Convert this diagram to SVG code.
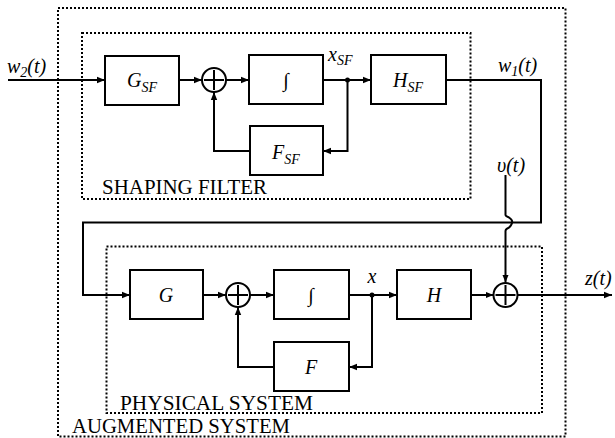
<svg xmlns="http://www.w3.org/2000/svg" width="615" height="438" viewBox="0 0 615 438">
<style>
.box{fill:#fff;stroke:#000;stroke-width:2}
.sum{fill:#fff;stroke:#000;stroke-width:2}
.dot{fill:none;stroke:#000;stroke-width:2;stroke-dasharray:2 2}
.ln{fill:none;stroke:#000;stroke-width:2}
.ar{fill:none;stroke:#000;stroke-width:2;marker-end:url(#ah)}
.t{font-family:'Liberation Serif','Times New Roman',Times,'DejaVu Serif',serif;font-style:italic;font-size:20px;fill:#000}
.s{font-size:14px}
.cap{font-family:'Liberation Serif','Times New Roman',Times,'DejaVu Serif',serif;font-size:20px;fill:#000}
</style>
<defs>
<marker id="ah" viewBox="0 0 10 10" refX="10" refY="5" markerWidth="4" markerHeight="4" orient="auto" markerUnits="strokeWidth">
<path d="M0,1 L10,5 L0,9 z" fill="#000"/>
</marker>
</defs>
<g id="augmented-system">
<rect class="dot" x="58" y="8" width="507.5" height="428.5"/>
<text class="cap" x="72" y="433" textLength="218" lengthAdjust="spacingAndGlyphs">AUGMENTED SYSTEM</text>
</g>
<g id="shaping-filter">
<rect class="dot" x="82" y="33" width="388.5" height="166"/>
<text class="cap" x="102" y="194" textLength="165" lengthAdjust="spacingAndGlyphs">SHAPING FILTER</text>
</g>
<g id="physical-system">
<rect class="dot" x="106.5" y="246.5" width="435.5" height="166.5"/>
<text class="cap" x="120" y="410" textLength="193" lengthAdjust="spacingAndGlyphs">PHYSICAL SYSTEM</text>
</g>
<g id="connectors">
<path class="ar" d="M8,80 H105"/>
<path class="ar" d="M179,80 H202"/>
<path class="ar" d="M226,80 H249"/>
<path class="ar" d="M323,80 H371"/>
<path class="ar" d="M347.5,80 V151 H323"/>
<path class="ar" d="M250,151 H214 V92"/>
<circle cx="347.5" cy="80" r="2.5" fill="#000"/>
<path class="ar" d="M446,80 H541 V222.5 H83 V295 H130"/>
<path class="ar" d="M203,295 H226"/>
<path class="ar" d="M250,295 H274"/>
<path class="ar" d="M349,295 H397"/>
<path class="ar" d="M372,295 V367 H349"/>
<path class="ar" d="M274,367 H238 V307"/>
<circle cx="372" cy="295" r="2.5" fill="#000"/>
<path class="ar" d="M471,295 H493.5"/>
<path class="ar" d="M517.5,295 H612"/>
<path class="ar" d="M505.5,175 V215 Q505.5,216 509,217.5 Q513,220 512,223 Q511,227 506.5,229 Q505.5,230 505.5,231 V282.5"/>
</g>
<g id="G_SF">
<rect class="box" x="105" y="56" width="74" height="49"/>
<text class="t" x="142" y="87" text-anchor="middle">G<tspan class="s" dy="5">SF</tspan></text>
</g>
<g id="sum1">
<circle class="sum" cx="214" cy="80" r="12"/>
<path class="ln" d="M214,70 V90 M204,80 H224"/>
</g>
<g id="int1">
<rect class="box" x="249" y="55" width="74" height="49"/>
<text class="t" style="font-style:normal" x="286" y="87" text-anchor="middle">∫</text>
</g>
<g id="F_SF">
<rect class="box" x="250" y="126" width="73" height="49"/>
<text class="t" x="286" y="159" text-anchor="middle">F<tspan class="s" dy="5">SF</tspan></text>
</g>
<g id="H_SF">
<rect class="box" x="371" y="55" width="75" height="49"/>
<text class="t" x="408" y="87" text-anchor="middle">H<tspan class="s" dy="5">SF</tspan></text>
</g>
<g id="G">
<rect class="box" x="130" y="270" width="73" height="49"/>
<text class="t" x="166" y="302" text-anchor="middle">G</text>
</g>
<g id="sum2">
<circle class="sum" cx="238" cy="295" r="12"/>
<path class="ln" d="M238,285 V305 M228,295 H248"/>
</g>
<g id="int2">
<rect class="box" x="274" y="270" width="75" height="49"/>
<text class="t" style="font-style:normal" x="311" y="302" text-anchor="middle">∫</text>
</g>
<g id="F">
<rect class="box" x="274" y="342" width="75" height="49"/>
<text class="t" x="311" y="374" text-anchor="middle">F</text>
</g>
<g id="H">
<rect class="box" x="397" y="270" width="74" height="49"/>
<text class="t" x="434" y="302" text-anchor="middle">H</text>
</g>
<g id="sum3">
<circle class="sum" cx="505.5" cy="295" r="12"/>
<path class="ln" d="M505.5,285 V305 M495.5,295 H515.5"/>
</g>
<g id="labels">
<text class="t" x="7" y="73">w<tspan class="s" dy="4">2</tspan><tspan dy="-4">(t)</tspan></text>
<text class="t" x="328" y="61">x<tspan class="s" dy="4">SF</tspan></text>
<text class="t" x="498" y="72">w<tspan class="s" dy="4">1</tspan><tspan dy="-4">(t)</tspan></text>
<text class="t" x="497" y="172">υ(t)</text>
<text class="t" x="372" y="283" text-anchor="middle">x</text>
<text class="t" x="585" y="285">z(t)</text>
</g>
</svg>
